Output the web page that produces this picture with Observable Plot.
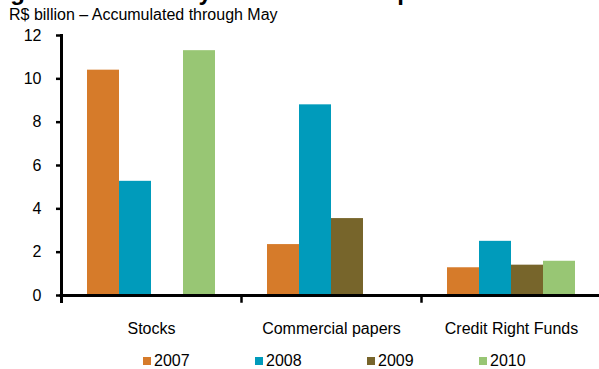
<!DOCTYPE html>
<html>
<head>
<meta charset="utf-8">
<script src="https://cdn.jsdelivr.net/npm/d3@7"></script>
<script src="https://cdn.jsdelivr.net/npm/@observablehq/plot@0.6"></script>
<style>
  html, body { margin: 0; padding: 0; background: #fff; overflow: hidden; }
  #page { position: relative; width: 599px; height: 369px; font-family: "Liberation Sans", Arial, sans-serif; color: #000; }
  #title { position: absolute; left: -11px; top: -20px; font-size: 24px; line-height: 24px; font-weight: bold; white-space: nowrap; }
  #subtitle { position: absolute; left: 9px; top: 7px; font-size: 16px; line-height: 16px; white-space: nowrap; }
  #chart { position: absolute; left: 0; top: 24px; }
  #legend { position: absolute; left: 143px; top: 353px; display: flex; font-size: 16px; line-height: 16px; }
  .item { width: 112px; display: flex; align-items: center; }
  .swatch { width: 8px; height: 8px; margin-right: 3px; }
</style>
</head>
<body>
<div id="page">
  <div id="chart"></div>
  <div id="title">Figure 13 – Primary issues in the capital market</div>
  <div id="subtitle">R$ billion – Accumulated through May</div>
  <div id="legend"></div>
</div>
<script>
// Primary issues by instrument, R$ billion accumulated through May
const categories = ["Stocks", "Commercial papers", "Credit Right Funds"];
const years = ["2007", "2008", "2009", "2010"];
const values2007 = [10.4, 2.35, 1.28];
const values2008 = [5.27, 8.8, 2.5];
const values2009 = [null, 3.55, 1.4];
const values2010 = [11.3, null, 1.58];
const yTicks = [0, 2, 4, 6, 8, 10, 12];
const colors = ["#D67B2A", "#009BBB", "#77652B", "#98C674"];

const series = [values2007, values2008, values2009, values2010];
const rows = [];
categories.forEach((category, i) => {
  years.forEach((year, j) => {
    const value = series[j][i];
    if (value != null) rows.push({category, year, value});
  });
});

const plotHeight = 320, marginTop = 11, marginBottom = 49;
const frameHeight = plotHeight - marginTop - marginBottom;

const chart = Plot.plot({
  width: 599,
  height: plotHeight,
  marginTop,
  marginBottom,
  marginLeft: 60,
  marginRight: 0,
  style: {fontFamily: "Liberation Sans, Arial, sans-serif", fontSize: "16px", color: "#000", background: "transparent", overflow: "visible"},
  fx: {domain: categories, range: [60, 601], padding: 0, label: null},
  x: {domain: years, paddingInner: 0, paddingOuter: 0.75, axis: null},
  y: {domain: [0, 12], label: null},
  color: {domain: years, range: colors},
  marks: [
    Plot.barY(rows, {fx: "category", x: "year", y: "value", fill: "year"}),
    // category axis baseline
    Plot.ruleY([0], {stroke: "#000", strokeWidth: 3, insetLeft: -1.5}),
    // value axis line in the first panel
    Plot.frame({anchor: "left", fx: [categories[0]], stroke: "#000", strokeWidth: 3, insetBottom: -6}),
    // separator ticks between categories
    Plot.frame({anchor: "left", stroke: "#000", strokeWidth: 2.5, insetTop: frameHeight, insetBottom: -6}),
    Plot.axisY(yTicks, {tickSize: 5, tickPadding: 15, strokeWidth: 2.5}),
    Plot.axisFx({anchor: "bottom", tickSize: 0, tickPadding: 27, label: null})
  ]
});
document.getElementById("chart").appendChild(chart);

const legend = d3.select("#legend");
years.forEach((year, i) => {
  const item = legend.append("div").attr("class", "item");
  item.append("div").attr("class", "swatch").style("background", colors[i]);
  item.append("span").text(year);
});
</script>
</body>
</html>
